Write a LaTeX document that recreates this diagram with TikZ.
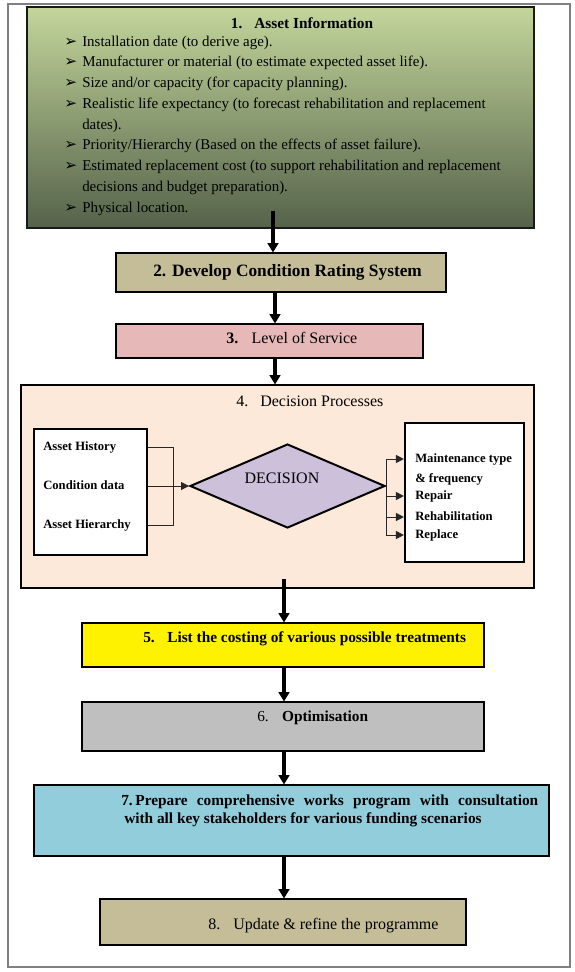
\documentclass[tikz,border=0pt]{standalone}
\usepackage{fontspec}
\setmainfont{Liberation Serif}
\newfontfamily\dingfont{DejaVu Sans}
\usepackage{xcolor}
\definecolor{infoTop}    {HTML}{C3D69B}
\definecolor{infoBottom} {HTML}{55624A}
\definecolor{tanBack}    {HTML}{C4BD97}
\definecolor{pinkBack}   {HTML}{E6B9B8}
\definecolor{peachBack}  {HTML}{FDE9D9}
\definecolor{lilacBack}  {HTML}{CCC0DA}
\definecolor{greyBack}   {HTML}{BFBFBF}
\definecolor{cyanBack}   {HTML}{92CDDC}
\definecolor{frameGrey}  {HTML}{808080}
\usetikzlibrary{arrows.meta, shapes.geometric, calc}
\newlength{\px}\setlength{\px}{0.75pt}
\tikzset{
    stage/.style={draw, rectangle, inner sep=0pt, line width=0.8pt},
    txt/.style={anchor=mid west, inner sep=0pt},
    bodytxt/.style={txt, font=\fontsize{11.2}{13}\selectfont},
    bultxt/.style={txt, font=\dingfont\fontsize{11.5}{13}\selectfont},
    smalltxt/.style={txt, font=\bfseries\fontsize{9.5}{11}\selectfont},
    flowarrow/.style={-{Triangle[length=7pt, width=8pt]}, line width=2.8pt},
    conn/.style={line width=0.75pt, black!85},
    smallarrow/.style={conn, -{Triangle[length=6pt, width=6pt]}},
}
\begin{document}
\begin{tikzpicture}[x=0.75pt, y=-0.75pt]
\useasboundingbox (0,0) rectangle (575,972);
\draw[frameGrey, line width=1.5pt] (8,4) rectangle (570,967);

% --- 1. asset information ---
\node[stage, draw=black!90, line width=1.1pt, top color=infoTop, bottom color=infoBottom,
      minimum width=507\px, minimum height=221\px] (info) at (280.5,117.5) {};
\node[font=\bfseries\fontsize{11.5}{13}\selectfont, inner sep=0pt] (info-t) at (302,23)
    {1.\hspace{9pt}Asset Information};
\foreach \y/\txt [count=\i] in {
    43/{Installation date (to derive age).},
    63.75/{Manufacturer or material (to estimate expected asset life).},
    84.5/{Size and/or capacity (for capacity planning).},
    105.25/{Realistic life expectancy (to forecast rehabilitation and replacement},
    146.75/{Priority/Hierarchy (Based on the effects of asset failure).},
    167.5/{Estimated replacement cost (to support rehabilitation and replacement},
    209/{Physical location.}} {
  \node[bultxt] (bul-\i) at (64,\y) {➢};
  \node[bodytxt] (item-\i) at (82,\y) {\txt};
}
\node[bodytxt] (item-4b) at (82,126) {dates).};
\node[bodytxt] (item-6b) at (82,188.25) {decisions and budget preparation).};

% --- 2. and 3. ---
\node[stage, fill=tanBack, minimum width=330\px, minimum height=39\px] (rating) at (281,272.5) {};
\node[txt, font=\bfseries\fontsize{13}{15}\selectfont] (rating-t) at (153,273)
    {2. Develop Condition Rating System};
\node[stage, fill=pinkBack, minimum width=307\px, minimum height=34\px] (service) at (269.5,341) {};
\node[txt, font=\fontsize{12}{14}\selectfont] (service-t) at (226,340)
    {\textbf{3.}\hspace{10pt}Level of Service};

% --- 4. decision processes ---
\node[stage, fill=peachBack, minimum width=513\px, minimum height=203\px] (decproc) at (277.5,486.5) {};
\node[txt, font=\fontsize{12}{14}\selectfont] (decproc-t) at (236,403)
    {4.\hspace{9pt}Decision Processes};
\node[stage, fill=white, line width=1.6pt, minimum width=113\px, minimum height=126\px] (inputs) at (90.5,492) {};
\node[smalltxt] (hist) at (43,447) {Asset History};
\node[smalltxt] (cond) at (43,486) {Condition data};
\node[smalltxt] (hier) at (43,525) {Asset Hierarchy};
\node[diamond, draw, fill=lilacBack, line width=1.5pt, inner sep=0pt,
      minimum width=195\px, minimum height=84\px] (decision) at (287.5,486) {};
\node[font=\fontsize{12}{14}\selectfont, inner sep=0pt] (decision-t) at (282,478) {DECISION};
\node[stage, fill=white, line width=1.6pt, minimum width=119\px, minimum height=139\px] (outcomes) at (464.5,492.5) {};
\node[smalltxt] (mtype) at (415,459) {Maintenance type};
\node[smalltxt] (freq) at (415,479) {\& frequency};
\node[smalltxt] (repair) at (415,496) {Repair};
\node[smalltxt] (rehab) at (415,517) {Rehabilitation};
\node[smalltxt] (replace) at (415,535) {Replace};
\coordinate (jl) at (173,486);
\coordinate (jr) at (decision.east);
\draw[conn] (inputs.east |- hist.mid) -- (jl |- hist.mid) -- (jl |- hier.mid) -- (inputs.east |- hier.mid);
\draw[smallarrow] (inputs.east |- cond.mid) -- (decision.west);
\draw[conn] (jr |- mtype.mid) -- (jr |- replace.mid);
\foreach \t in {mtype, repair, rehab, replace}
  \draw[smallarrow] (jr |- \t.mid) -- (outcomes.west |- \t.mid);

% --- 5. to 8. ---
\node[stage, fill=yellow, minimum width=402\px, minimum height=44\px] (costing) at (283,645) {};
\node[txt, font=\bfseries\fontsize{11.5}{13}\selectfont] (costing-t) at (143,639)
    {5.\hspace{9.4pt}List the costing of various possible treatments};
\node[stage, fill=greyBack, minimum width=402\px, minimum height=49\px] (optim) at (283,726.5) {};
\node[txt, font=\fontsize{11.5}{13}\selectfont] (optim-t) at (257,718)
    {6.\hspace{10pt}\textbf{Optimisation}};
\node[stage, fill=cyanBack, minimum width=515\px, minimum height=71\px] (works) at (291.5,820.5) {};
\node[txt, font=\bfseries\fontsize{11.5}{13}\selectfont] (works-t1) at (121,802)
    {\makebox[312.75pt][s]{7.\hspace{2pt}Prepare comprehensive works program with consultation}};
\node[txt, font=\bfseries\fontsize{11.5}{13}\selectfont] (works-t2) at (124,820)
    {with all key stakeholders for various funding scenarios};
\node[stage, fill=tanBack, minimum width=366\px, minimum height=46\px] (update) at (283,922) {};
\node[txt, font=\fontsize{12}{14}\selectfont] (update-t) at (208,926)
    {8.\hspace{9.75pt}Update \& refine the programme};

% --- flow arrows ---
\coordinate (c1) at (273,0);
\coordinate (c2) at (275,0);
\coordinate (c3) at (284,0);
\draw[flowarrow] ($(info.south -| c1)+(0,-18)$) -- (rating.north -| c1);
\draw[flowarrow] (rating.south -| c2) -- (service.north -| c2);
\draw[flowarrow] (service.south -| c2) -- (decproc.north -| c2);
\draw[flowarrow] ($(decproc.south -| c3)+(0,-10)$) -- (costing.north -| c3);
\draw[flowarrow] (costing.south -| c3) -- (optim.north -| c3);
\draw[flowarrow] (optim.south -| c3) -- (works.north -| c3);
\draw[flowarrow] (works.south -| c3) -- (update.north -| c3);
\end{tikzpicture}
\end{document}
